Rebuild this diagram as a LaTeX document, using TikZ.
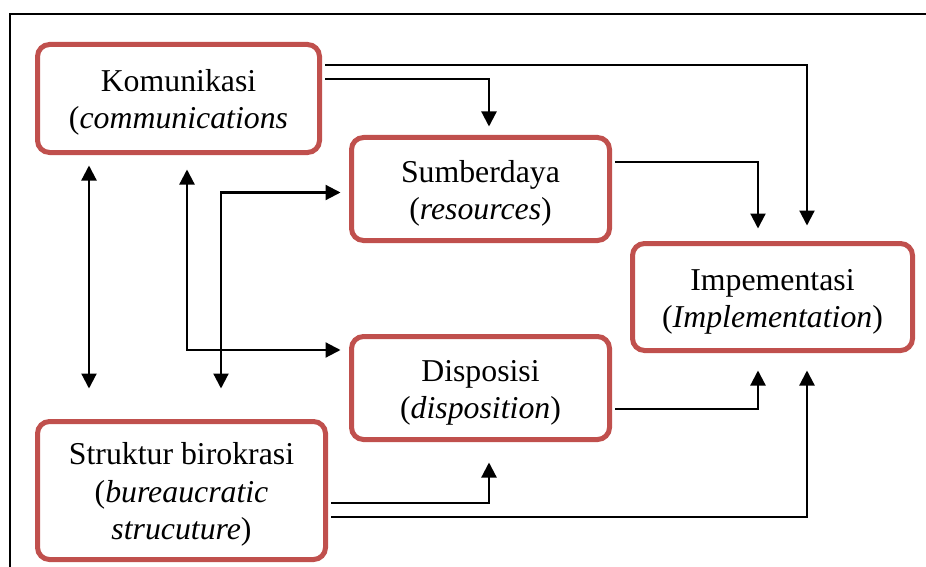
\documentclass[tikz,border=0pt]{standalone}
\usepackage{fontspec}
\setmainfont{Liberation Serif}
\usetikzlibrary{arrows.meta,calc}
\definecolor{boxred}{RGB}{192,80,77}
\newcommand{\topgap}{\rule{0pt}{15pt}}
\begin{document}
\begin{tikzpicture}[x=0.5pt,y=-0.5pt,
    factor/.style={draw=boxred,line width=2.5pt,rounded corners=6pt,align=center,
      inner sep=0pt,font=\fontsize{15.9pt}{18.6pt}\selectfont},
    link/.style={line width=1.1pt,shorten <=1.5pt,-{Triangle[length=7.5pt,width=7.5pt]}},
    both/.style={line width=1.1pt,{Triangle[length=7.5pt,width=7.5pt]}-{Triangle[length=7.5pt,width=7.5pt]}}]
    \useasboundingbox (0,0) rectangle (926,567);
    % Frame at top and left
    \draw[line width=1pt] (926,14) -- (10,14) -- (10,567);

    % The five factors
    \node[factor,minimum width=141pt,minimum height=54pt] (kom) at (178.5,98.5)
        {\topgap Komunikasi\\(\textit{communications}};
    \node[factor,minimum width=129pt,minimum height=51.5pt] (sum) at (480.5,189)
        {\topgap Sumberdaya\\(\textit{resources})};
    \node[factor,minimum width=140pt,minimum height=53.5pt] (imp) at (772.5,297)
        {\topgap Impementasi\\(\textit{Implementation})};
    \node[factor,minimum width=129pt,minimum height=51.5pt] (dis) at (480.5,388)
        {\topgap Disposisi\\(\textit{disposition})};
    \node[factor,minimum width=144pt,minimum height=69pt] (str) at (181.5,490.5)
        {\topgap Struktur birokrasi\\(\textit{bureaucratic}\\\textit{strucuture})};

    % Arrows into Sumberdaya and Impementasi
    \draw[link,shorten >=7.75pt] ($(kom.east)+(0,-33.5)$) -| ($(imp.north)+(34.5,0)$);
    \draw[link,shorten >=4.25pt] ($(kom.east)+(0,-19.5)$) -| ($(sum.north)+(8.5,0)$);
    \draw[link,shorten >=6.25pt] ($(sum.east)+(0,-27)$) -| ($(imp.north)+(-14.5,0)$);
    \draw[link,shorten >=8.75pt] ($(dis.east)+(0,21)$) -| ($(imp.south)+(-14.5,0)$);
    \draw[link,shorten >=10.25pt] ($(str.east)+(0,12.5)$) -| ($(dis.south)+(8.5,0)$);
    \draw[link,shorten >=8.75pt] ($(str.east)+(0,26.5)$) -| ($(imp.south)+(34.5,0)$);

    % Two-way arrows on the left
    \draw[both,shorten <=5.25pt,shorten >=15.25pt] ($(kom.south)+(-89.5,0)$) -- ($(str.north)+(-92.5,0)$);
    \draw[both,shorten <=7.25pt,shorten >=4.25pt] ($(kom.south)+(8.5,0)$) |- ($(dis.west)+(0,-38)$);
    \draw[both,shorten <=4.25pt,shorten >=15.25pt] ($(sum.west)+(0,3.5)$) -| ($(str.north)+(39.5,0)$);
\end{tikzpicture}
\end{document}
